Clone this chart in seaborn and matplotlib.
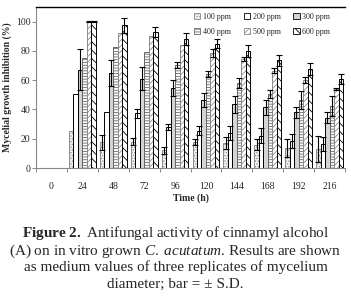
import numpy as np
import pandas as pd
import seaborn as sns
import matplotlib
matplotlib.use("Agg")
import matplotlib.pyplot as plt
from matplotlib.patches import Patch

times = [0, 24, 48, 72, 96, 120, 144, 168, 192, 216]
concs = ["100 ppm", "200 ppm", "300 ppm", "400 ppm", "500 ppm", "600 ppm"]

v100 = [0, 25, 17.5, 18, 12, 18, 17, 16, 13.5, 13]
v200 = [0, 50.5, 38.5, 37.5, 28, 25.5, 24, 22, 18.5, 16.5]
v300 = [0, 67, 65, 61, 54.5, 46.5, 43.5, 41.5, 38, 34.5]
v400 = [0, 75, 82.5, 79, 70.5, 64.5, 58, 50.5, 46.5, 42.5]
v500 = [0, 100, 92, 90, 84, 78.5, 74.5, 66.5, 60, 54]
v600 = [0, 100, 97.5, 93, 88, 85, 80, 73.5, 67.5, 61]

e100 = [0, 0, 5, 2.5, 2.5, 2, 4, 4, 6, 9]
e200 = [0, 0, 0, 3, 2, 3, 5, 5, 5, 5]
e300 = [0, 14, 9, 8, 5.5, 5, 6, 5, 4, 3.5]
e400 = [0, 0, 0, 0, 2, 2, 3.5, 3, 6, 7]
e500 = [0, 0.3, 0, 0, 0, 3, 1.5, 1.5, 2, 1]
e600 = [0, 0.3, 5, 3.5, 4, 3, 4, 4, 4, 3.5]

values = [v100, v200, v300, v400, v500, v600]
errors = [e100, e200, e300, e400, e500, e600]

rows = []
for c, vals in zip(concs, values):
    for t, v in zip(times, vals):
        rows.append({"time": str(t), "conc": c, "value": v})
df = pd.DataFrame(rows)

sns.set_theme(style="white")
plt.rcParams["font.family"] = ["Liberation Serif", "DejaVu Serif"]
plt.rcParams["mathtext.fontset"] = "custom"
plt.rcParams["mathtext.rm"] = "Liberation Serif"
plt.rcParams["mathtext.bf"] = "Liberation Serif:bold"
plt.rcParams["mathtext.it"] = "Liberation Serif:italic"
plt.rcParams["hatch.linewidth"] = 0.6

styles = {
    "100 ppm": dict(facecolor="#f2f2f2", edgecolor="#8a8a8a", hatch="......"),
    "200 ppm": dict(facecolor="white", edgecolor="black", hatch=None),
    "300 ppm": dict(facecolor="#d4d4d4", edgecolor="black", hatch=None),
    "400 ppm": dict(facecolor="white", edgecolor="#666666", hatch="------"),
    "500 ppm": dict(facecolor="white", edgecolor="#8a8a8a", hatch="//////"),
    "600 ppm": dict(facecolor="white", edgecolor="black", hatch="\\\\\\\\"),
}

fig = plt.figure(figsize=(3.51, 2.99), dpi=100)
ax = fig.add_axes([36 / 351, 1 - 168 / 299, 309 / 351, 161 / 299])

sns.barplot(data=df, x="time", y="value", hue="conc", order=[str(t) for t in times],
            hue_order=concs, palette=["white"] * 6, errorbar=None, width=0.87,
            gap=0, legend=False, ax=ax)

for cont, c, errs in zip(ax.containers, concs, errors):
    st = styles[c]
    xs, ys, es = [], [], []
    for bar, e in zip(cont, errs):
        bar.set_facecolor(st["facecolor"])
        bar.set_edgecolor(st["edgecolor"])
        bar.set_linewidth(0.7)
        if st["hatch"]:
            bar.set_hatch(st["hatch"])
        if e > 0:
            xs.append(bar.get_x() + bar.get_width() / 2)
            ys.append(bar.get_height())
            es.append(e)
    if xs:
        ax.errorbar(xs, ys, yerr=es, fmt="none", ecolor="black",
                    elinewidth=0.8, capsize=2.2, capthick=0.8)

ax.set_ylim(0, 110)
ax.set_xlim(-0.5, 9.5)
ax.set_yticks([0, 20, 40, 60, 80, 100])
ax.set_xticks(range(len(times)))
ax.set_xticklabels([str(t) for t in times])
ax.set_xticks(np.arange(-0.5, 10, 1), minor=True)
ax.tick_params(axis="x", which="major", length=0, pad=10, labelsize=7)
ax.tick_params(axis="x", which="minor", length=3, width=0.7, color="#888888", bottom=True)
ax.tick_params(axis="y", length=3, width=0.7, color="#888888", pad=1, labelsize=7, left=True)

for s in ["left", "bottom"]:
    ax.spines[s].set_color("#888888")
    ax.spines[s].set_linewidth(0.8)
ax.spines["right"].set_visible(False)
ax.spines["top"].set_color("black")
ax.spines["top"].set_linewidth(1.0)

ax.set_xlabel("Time (h)", fontsize=7, fontweight="bold", labelpad=2)
ax.set_ylabel("Mycelial growth inhibition (%)", fontsize=7, fontweight="bold", labelpad=3)

order = [0, 3, 1, 4, 2, 5]
handles = [Patch(facecolor=styles[concs[i]]["facecolor"], edgecolor=styles[concs[i]]["edgecolor"],
                 hatch=styles[concs[i]]["hatch"], linewidth=0.6) for i in order]
labels = [concs[i] for i in order]
ax.legend(handles, labels, ncol=3, frameon=False, fontsize=5.8,
          loc="upper right", bbox_to_anchor=(0.975, 1.01),
          handlelength=0.8, handleheight=0.8, handletextpad=0.3,
          columnspacing=1.6, labelspacing=0.9)

fs = 11
fig.text(0.5, 1 - 233 / 299, r"$\mathbf{Figure\ 2.}$ Antifungal activity of cinnamyl alcohol",
         ha="center", va="center", fontsize=fs)
fig.text(0.5, 1 - 251 / 299, r"(A) on in vitro grown $\mathit{C.\ acutatum}$. Results are shown",
         ha="center", va="center", fontsize=fs)
fig.text(0.5, 1 - 267 / 299, "as medium values of three replicates of mycelium",
         ha="center", va="center", fontsize=fs)
fig.text(0.5, 1 - 284 / 299, "diameter; bar = ± S.D.",
         ha="center", va="center", fontsize=fs)

fig.savefig("out.png", dpi=100)
